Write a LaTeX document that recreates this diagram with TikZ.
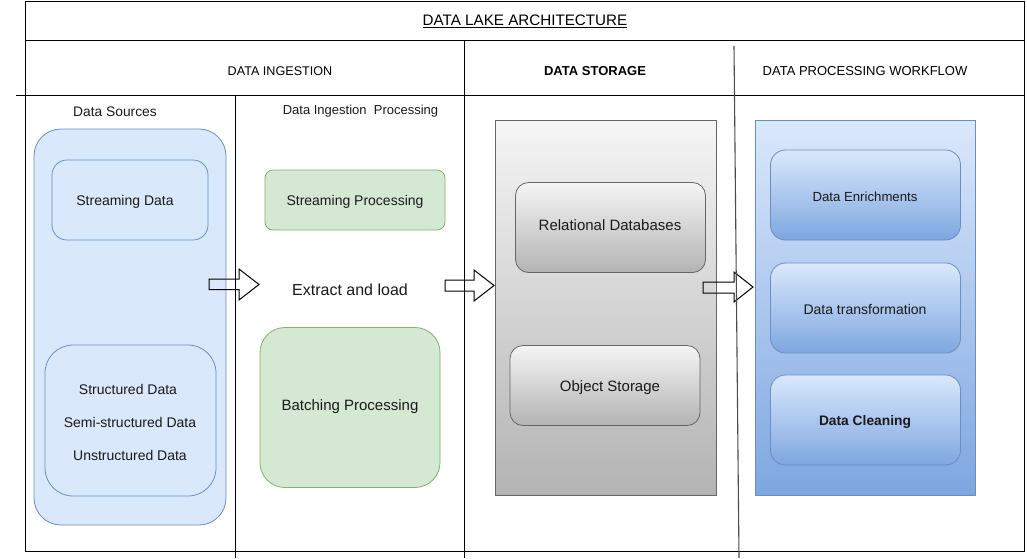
\documentclass[tikz,border=0pt]{standalone}
\usepackage{fontspec}
\setmainfont{Liberation Sans}
\definecolor{bluefill}{HTML}{DAE8FC}
\definecolor{bluedark}{HTML}{7EA6E0}
\definecolor{bluestroke}{HTML}{6C8EBF}
\definecolor{greenfill}{HTML}{D5E8D4}
\definecolor{greenstroke}{HTML}{82B366}
\definecolor{grayfill}{HTML}{F5F5F5}
\definecolor{graydark}{HTML}{B3B3B3}
\definecolor{graystroke}{HTML}{666666}
\definecolor{txt}{HTML}{1A1A1A}
\tikzset{
  bluebox/.style={draw=bluestroke, fill=bluefill, line width=0.8pt},
  greenbox/.style={draw=greenstroke, fill=greenfill, line width=0.8pt},
  graygrad/.style={draw=graystroke, top color=grayfill, bottom color=graydark, line width=0.8pt},
  bluegrad/.style={draw=bluestroke, top color=bluefill, bottom color=bluedark, line width=0.8pt},
  lbl/.style={inner sep=0pt, yshift=-1.5pt, text=txt, font=\fontsize{14}{16}\selectfont},
  hdr/.style={inner sep=0pt, yshift=-1.5pt, text=black, font=\fontsize{13}{15}\selectfont},
  frame/.style={draw=black, line width=1pt},
  blockarrow/.style={draw=black, line width=1pt, line join=miter},
}
\begin{document}
\begin{tikzpicture}[x=1pt,y=-1pt]
\useasboundingbox (0,0) rectangle (1027,558);
\fill[white] (0,0) rectangle (1027,558);

% ---- Data sources
\node[bluebox, rounded corners=27, minimum width=192, minimum height=396, inner sep=0pt] (src) at (130,327) {};
\node[bluebox, rounded corners=15, minimum width=156, minimum height=80, inner sep=0pt] (stream) at (130,200) {};
\node[lbl] (streamt) at (125,200) {Streaming Data};
\node[bluebox, rounded corners=28, minimum width=171, minimum height=151, inner sep=0pt] (struct) at (130.5,420.5) {};
\node[lbl] (s1) at (128,388) {Structured Data};
\node[lbl] (s2) at (130,421) {Semi-structured Data};
\node[lbl] (s3) at (130,454) {Unstructured Data};

% ---- Ingestion processing
\node[greenbox, rounded corners=8, minimum width=180, minimum height=60, inner sep=0pt] (sp) at (355,200) {};
\node[lbl] (spt) at (355,200) {Streaming Processing};
\node[greenbox, rounded corners=25, minimum width=180, minimum height=160, inner sep=0pt] (bp) at (350,407.5) {};
\node[lbl, font=\fontsize{15}{17}\selectfont] (bpt) at (350,405) {Batching Processing};
\node[lbl, font=\fontsize{16}{18}\selectfont] (el) at (350,288) {Extract and load};

% ---- Storage
\node[graygrad, minimum width=221, minimum height=375, inner sep=0pt] (stor) at (605.5,307.5) {};
\node[graygrad, rounded corners=13, minimum width=190, minimum height=90, inner sep=0pt] (rel) at (610.5,227.5) {};
\node[lbl, font=\fontsize{15}{17}\selectfont] (relt) at (610,224) {Relational Databases};
\node[graygrad, rounded corners=13, minimum width=190, minimum height=80, inner sep=0pt] (obj) at (605,385.5) {};
\node[lbl, font=\fontsize{15}{17}\selectfont] (objt) at (610,386) {Object Storage};

% ---- Processing workflow
\node[bluegrad, minimum width=220, minimum height=375, inner sep=0pt] (wf) at (865,307.5) {};
\node[bluegrad, rounded corners=15, minimum width=190, minimum height=90, inner sep=0pt] (enr) at (865.5,195) {};
\node[lbl, font=\fontsize{13.2}{15}\selectfont] (enrt) at (865,195) {Data Enrichments};
\node[bluegrad, rounded corners=15, minimum width=190, minimum height=90, inner sep=0pt] (trn) at (865.5,308) {};
\node[lbl] (trnt) at (865,308) {Data transformation};
\node[bluegrad, rounded corners=15, minimum width=190, minimum height=90, inner sep=0pt] (cln) at (865.5,420) {};
\node[lbl, font=\bfseries\fontsize{13.8}{15}\selectfont] (clnt) at (865,420) {Data Cleaning};

% ---- Block arrows
\coordinate (a1) at (209,284);
\coordinate (a2) at (445,285.5);
\coordinate (a3) at (703,287.5);
\draw[blockarrow] (a1) ++(0,-5) -- ++(30,0) -- ++(0,-10) -- ++(20,15.5) -- ++(-20,15.5) -- ++(0,-10.5) -- ++(-30,0) -- cycle;
\draw[blockarrow] (a2) ++(0,-5.5) -- ++(29,0) -- ++(0,-10) -- ++(20,15.5) -- ++(-20,15.5) -- ++(0,-10) -- ++(-29,0) -- cycle;
\draw[blockarrow] (a3) ++(0,-5.5) -- ++(31,0) -- ++(0,-10) -- ++(19,15) -- ++(-19,15) -- ++(0,-9) -- ++(-31,0) -- cycle;

% ---- Frame and grid
\draw[frame] (25,1) rectangle (1024,551);
\draw[frame] (25,40.5) -- (1024,40.5);
\draw[frame] (16,95) -- (1024,95);
\draw[frame] (464.5,40.5) -- (464.5,558);
\draw[black, line width=0.8pt] (235.5,95) -- (235.5,558);
\draw[black!70, line width=1.1pt] (734,46) -- (739,558);

% ---- Headers
\node[hdr, font=\fontsize{15.2}{17}\selectfont] (title) at (525,20) {\underline{DATA LAKE ARCHITECTURE}};
\node[hdr, font=\fontsize{12.6}{14}\selectfont] (hing) at (280,70) {DATA INGESTION};
\node[hdr, font=\bfseries\fontsize{13}{15}\selectfont] (hsto) at (595,70) {DATA STORAGE};
\node[hdr] (hpro) at (865,70) {DATA PROCESSING WORKFLOW};
\node[lbl, font=\fontsize{13.8}{15}\selectfont] (dsrc) at (115,110) {Data Sources};
\node[lbl, font=\fontsize{13}{15}\selectfont] (dip) at (360.5,110) {Data Ingestion\ \ Processing};
\end{tikzpicture}
\end{document}
